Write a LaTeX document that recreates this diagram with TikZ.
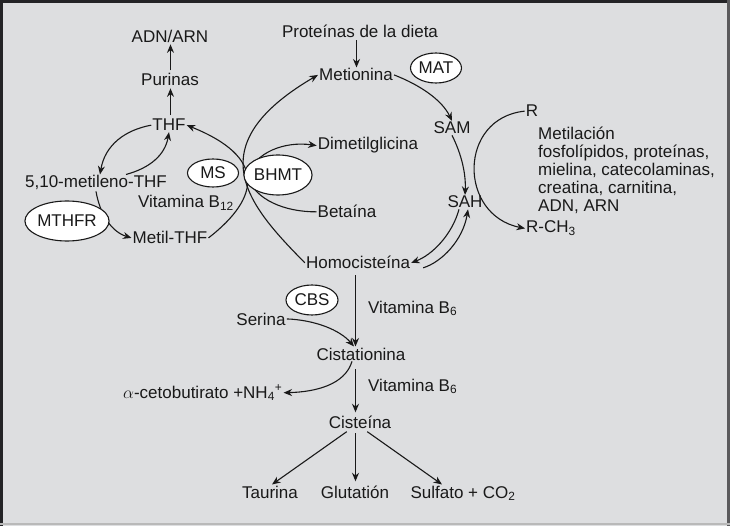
\documentclass[tikz,border=0pt]{standalone}
\usepackage{fontspec}
\setmainfont{Liberation Sans}
\usetikzlibrary{shapes.geometric,arrows.meta}
\definecolor{bg}{RGB}{221,222,224}
\definecolor{framec}{RGB}{35,35,38}
\definecolor{ink}{RGB}{25,25,25}
\begin{document}
\begin{tikzpicture}[x=1pt,y=-1pt,
  every node/.style={inner sep=1pt, font=\fontsize{17}{20}\selectfont, text=ink},
  lb/.style={anchor=base},
  arr/.style={draw=ink, line width=1.1pt, -{Stealth[length=8.5pt,width=7pt]}},
  enz/.style={ellipse, draw=ink, fill=white, line width=1.1pt, inner sep=0pt}]
\useasboundingbox (0,0) rectangle (730,526);
\fill[bg] (0,0) rectangle (730,526);
\draw[framec, line width=3pt] (0,1.5) -- (730,1.5);
\draw[framec, line width=3pt] (1.5,0) -- (1.5,526);
\draw[framec!75, line width=2.5pt] (728.5,0) -- (728.5,526);
\draw[gray!55, line width=1.5pt] (0,524) -- (730,524);

% folate cycle
\node[lb] (adn) at (170,43) {ADN/ARN};
\node[lb] (pur) at (170,86) {Purinas};
\node[lb] (thf) at (169,131) {THF};
\node[lb] (met10) at (96,188) {5,10-metileno-THF};
\node[lb] (vb12) at (186,208) {Vitamina B\textsubscript{12}};
\node[lb] (mthf) at (170,244) {Metil-THF};

% methionine cycle
\node[lb] (prot) at (360,38) {Proteínas de la dieta};
\node[lb] (meth) at (356,81) {Metionina};
\node[lb] (sam) at (452,134) {SAM};
\node[lb] (dmg) at (368,150) {Dimetilglicina};
\node[lb] (bet) at (347,218) {Betaína};
\node[lb] (sah) at (465,208) {SAH};
\node[lb] (hcy) at (358,269) {Homocisteína};
\coordinate (hub) at (247,176);

% methylation
\node[lb] (r) at (532,117) {R};
\node[anchor=base west] (rch3) at (525,233) {R-CH\textsubscript{3}};
\node[anchor=north west, align=left, inner sep=0pt, font=\fontsize{17}{17.9}\selectfont] (metil) at (538,127)
  {Metilación\\fosfolípidos, proteínas,\\mielina, catecolaminas,\\creatina, carnitina,\\ADN, ARN};

% transsulfuration
\node[lb] (cist) at (361,360) {Cistationina};
\node[anchor=base west] (vb6a) at (367,313) {Vitamina B\textsubscript{6}};
\node[anchor=base west] (vb6b) at (367,391) {Vitamina B\textsubscript{6}};
\node[lb] (ser) at (261,325) {Serina};
\node[anchor=base west] (akb) at (122,398) {$\alpha$-cetobutirato +NH\textsubscript{4}\textsuperscript{+}};
\node[lb] (cis) at (360,428) {Cisteína};
\node[lb] (taur) at (270,498) {Taurina};
\node[lb] (glut) at (355,498) {Glutatión};
\node[lb] (sulf) at (463,498) {Sulfato + CO\textsubscript{2}};

% connectors: folate
\draw[arr, shorten <=2pt] ([xshift=0.5pt]pur.north) -- ([xshift=0.5pt]pur.north |- adn.south);
\draw[arr, shorten <=3pt, shorten >=1pt] ([xshift=1.5pt]thf.north) -- ([xshift=1.5pt]thf.north |- pur.south);
\draw[arr] (thf.west) .. controls (125,130) and (105,145) .. ([xshift=4pt]met10.north);
\draw[arr] ([xshift=30pt]met10.north) .. controls (150,168) and (165,155) .. (thf.south);
\draw[arr] (met10.south) .. controls (100,215) and (112,232) .. (mthf.west);
\draw[arr] (mthf.east) .. controls (261,197) and (266,157) .. (thf.east);

% connectors: methionine cycle
\draw[arr, shorten <=1pt] ([xshift=-3.5pt]prot.south) -- ([xshift=-3.5pt]prot.south |- meth.north);
\draw[arr] (hcy.west) .. controls (250,207) and (195,147) .. (meth.west);
\draw[arr] (meth.east) .. controls (420,85) and (442,100) .. (sam.north);
\draw[arr] (sam.south) .. controls (462,155) and (466,175) .. (sah.north);
\draw[arr] ([xshift=-6pt]sah.south) .. controls (452,235) and (432,255) .. (hcy.east);
\draw[arr] ([xshift=12pt,yshift=-5pt]hcy.east) .. controls (442,262) and (463,240) .. ([xshift=3pt]sah.south);
\draw[arr] (hub) .. controls (255,152) and (285,141) .. (dmg.west);
\draw[ink, line width=1.1pt] (bet.west) .. controls (285,212) and (255,200) .. (hub);

% connectors: methylation
\draw[arr] (r.west) .. controls (458,118) and (458,215) .. (rch3.west);

% connectors: transsulfuration
\draw[arr, shorten <=5pt] ([xshift=-2.5pt]hcy.south) -- ([xshift=-2.5pt]hcy.south |- cist.north);
\draw[arr] (ser.east) .. controls (315,320) and (340,330) .. ([xshift=-7pt]cist.north);
\draw[arr] ([xshift=-9pt]cist.south) .. controls (345,385) and (315,392) .. (akb.east);
\draw[arr, shorten <=8pt, shorten >=2pt] ([xshift=-5.5pt]cist.south) -- ([xshift=-5.5pt]cist.south |- cis.north);
\draw[arr, shorten <=4pt] ([xshift=-10pt]cis.south) -- ([xshift=2pt]taur.north);
\draw[arr, shorten <=4pt, shorten >=3pt] ([xshift=-4.5pt]cis.south) -- ([xshift=-4.5pt]cis.south |- glut.north);
\draw[arr, shorten <=4pt] ([xshift=4pt]cis.south) -- ([xshift=-21pt]sulf.north);

% enzymes
\node[enz, minimum width=51pt, minimum height=28pt] (ms) at (213,173) {MS};
\node[enz, minimum width=83pt, minimum height=40pt] (mthfr) at (67,221) {MTHFR};
\node[enz, minimum width=51pt, minimum height=30pt] (mat) at (436,68) {MAT};
\node[enz, minimum width=62pt, minimum height=40pt] (bhmt) at (278,175) {BHMT};
\node[enz, minimum width=52pt, minimum height=30pt] (cbs) at (312,300) {CBS};
\end{tikzpicture}
\end{document}
